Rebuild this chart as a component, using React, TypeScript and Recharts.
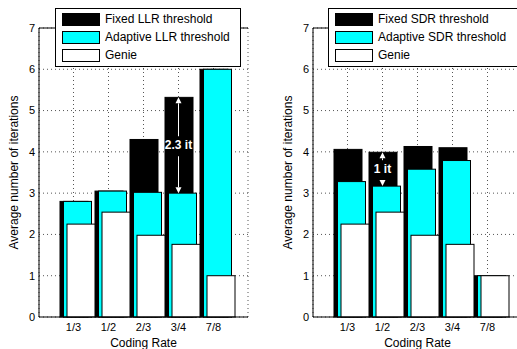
import { BarChart, Bar, XAxis, YAxis, CartesianGrid, ReferenceLine, Legend } from "recharts";

const categories = ["1/3", "1/2", "2/3", "3/4", "7/8"];
const genie = [2.25, 2.54, 1.98, 1.76, 1.0];
const fixedLLR = [2.8, 3.05, 4.3, 5.32, 6.0];
const adaptiveLLR = [2.8, 3.05, 3.02, 3.0, 6.0];
const fixedSDR = [4.06, 3.99, 4.13, 4.1, 1.0];
const adaptiveSDR = [3.28, 3.17, 3.58, 3.79, 1.0];
const yTicks = [0, 1, 2, 3, 4, 5, 6, 7];

const llrLegend = ["Fixed LLR threshold", "Adaptive LLR threshold", "Genie"];
const sdrLegend = ["Fixed SDR threshold", "Adaptive SDR threshold", "Genie"];

const llrGap = { rate: "3/4", from: 3.0, to: 5.32, label: "2.3 it" };
const sdrGap = { rate: "1/2", from: 3.17, to: 3.99, label: "1 it" };

const FONT = '"Liberation Sans", Arial, Helvetica, sans-serif';
const colors = ["#000000", "#00ffff", "#ffffff"];

function rows(fixed: number[], adaptive: number[]) {
  return categories.map((rate, i) => ({
    rate,
    fixed: fixed[i],
    adaptive: adaptive[i],
    genie: genie[i],
  }));
}

// matlab draws the three bars slightly right of the tick
function OffsetBar(props: any) {
  const { x, y, width, height, fill } = props;
  return (
    <rect
      x={x + 3}
      y={y}
      width={width + 1}
      height={height}
      fill={fill}
      stroke="#000"
      strokeWidth={1}
    />
  );
}

function gapArrow(label: string) {
  return (props: any) => {
    const { x1, y1, y2 } = props;
    const top = Math.min(y1, y2);
    const bottom = Math.max(y1, y2);
    const mid = (top + bottom) / 2;
    const head = 6;
    const upper = mid - 9;
    const lower = mid + 11;
    return (
      <g>
        {upper > top + head && (
          <line x1={x1} x2={x1} y1={top + head} y2={upper} stroke="#fff" strokeWidth={1} />
        )}
        {lower < bottom - head && (
          <line x1={x1} x2={x1} y1={lower} y2={bottom - head} stroke="#fff" strokeWidth={1} />
        )}
        <polygon
          points={`${x1},${top} ${x1 - 3},${top + head} ${x1 + 3},${top + head}`}
          fill="#fff"
        />
        <polygon
          points={`${x1},${bottom} ${x1 - 3},${bottom - head} ${x1 + 3},${bottom - head}`}
          fill="#fff"
        />
        <text
          x={x1}
          y={mid}
          fill="#fff"
          fontSize={12}
          fontWeight="bold"
          textAnchor="middle"
          dominantBaseline="central"
          fontFamily={FONT}
        >
          {label}
        </text>
      </g>
    );
  };
}

function LegendBox({ labels, width }: { labels: string[]; width: number }) {
  return (
    <div
      style={{
        width,
        boxSizing: "border-box",
        border: "1px solid #000",
        background: "#fff",
        padding: "1px 6px 2px 6px",
        fontFamily: FONT,
        fontSize: 12,
        color: "#000",
      }}
    >
      {labels.map((label, i) => (
        <div key={label} style={{ height: 18, display: "flex", alignItems: "center" }}>
          <span
            style={{
              display: "inline-block",
              width: 38,
              height: 13,
              boxSizing: "border-box",
              border: "1px solid #000",
              background: colors[i],
              marginRight: 5,
            }}
          />
          <span style={{ whiteSpace: "nowrap" }}>{label}</span>
        </div>
      ))}
    </div>
  );
}

interface PanelProps {
  fixed: number[];
  adaptive: number[];
  legend: string[];
  legendLeft: number;
  legendWidth: number;
  gap: { rate: string; from: number; to: number; label: string };
}

function Panel({ fixed, adaptive, legend, legendLeft, legendWidth, gap }: PanelProps) {
  return (
    <BarChart
      width={260}
      height={349}
      data={rows(fixed, adaptive)}
      margin={{ top: 28, right: 12, bottom: 0, left: 0 }}
      barSize={27}
      barGap={-23.5}
      style={{ fontFamily: FONT }}
    >
      <CartesianGrid stroke="#555" strokeDasharray="1 3" />
      <XAxis
        dataKey="rate"
        padding={{ left: 17, right: 17 }}
        interval={0}
        height={32}
        tickLine={false}
        tickSize={0}
        tickMargin={6}
        axisLine={{ stroke: "#000" }}
        tick={{ fontSize: 11, fill: "#000" }}
        label={{
          value: "Coding Rate",
          position: "insideBottom",
          offset: 2,
          style: { fontSize: 12, fill: "#000" },
        }}
      />
      <YAxis
        type="number"
        domain={[0, 7]}
        ticks={yTicks}
        width={39}
        tickLine={false}
        tickSize={0}
        tickMargin={4}
        axisLine={{ stroke: "#000" }}
        tick={{ fontSize: 11, fill: "#000" }}
        label={{
          value: "Average number of iterations",
          angle: -90,
          position: "insideLeft",
          offset: 14,
          style: { fontSize: 12, fill: "#000", textAnchor: "middle" },
        }}
      />
      <YAxis
        yAxisId="frame"
        orientation="right"
        domain={[0, 7]}
        width={0}
        tick={false}
        tickLine={false}
        axisLine={{ stroke: "#000" }}
      />
      <Bar dataKey="fixed" fill={colors[0]} shape={OffsetBar} isAnimationActive={false} />
      <Bar dataKey="adaptive" fill={colors[1]} shape={OffsetBar} isAnimationActive={false} />
      <Bar dataKey="genie" fill={colors[2]} shape={OffsetBar} isAnimationActive={false} />
      <ReferenceLine y={7} stroke="#000" />
      <ReferenceLine
        segment={[
          { x: gap.rate, y: gap.from },
          { x: gap.rate, y: gap.to },
        ]}
        shape={gapArrow(gap.label)}
      />
      <Legend
        layout="vertical"
        verticalAlign="middle"
        align="center"
        wrapperStyle={{ left: legendLeft, top: 8, width: legendWidth }}
        content={() => <LegendBox labels={legend} width={legendWidth} />}
      />
    </BarChart>
  );
}

export default function App() {
  return (
    <div
      style={{
        position: "absolute",
        left: 0,
        top: 0,
        width: 517,
        height: 349,
        overflow: "hidden",
        background: "#fff",
      }}
    >
      <div style={{ position: "absolute", left: 0, top: 0 }}>
        <Panel
          fixed={fixedLLR}
          adaptive={adaptiveLLR}
          legend={llrLegend}
          legendLeft={55}
          legendWidth={186}
          gap={llrGap}
        />
      </div>
      <div style={{ position: "absolute", left: 274, top: 0 }}>
        <Panel
          fixed={fixedSDR}
          adaptive={adaptiveSDR}
          legend={sdrLegend}
          legendLeft={54}
          legendWidth={190}
          gap={sdrGap}
        />
      </div>
    </div>
  );
}
